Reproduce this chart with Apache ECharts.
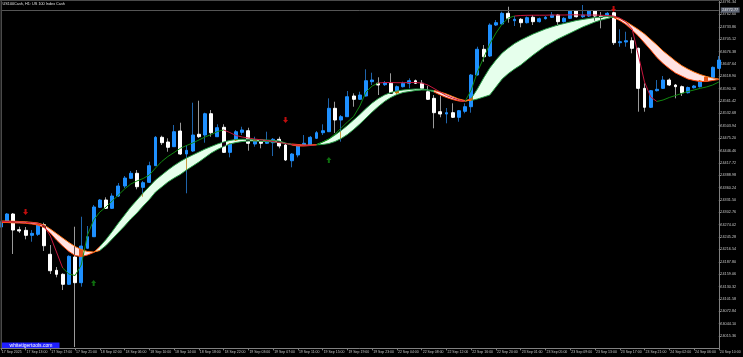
<!DOCTYPE html>
<html><head><meta charset="utf-8">
<script src="https://cdn.jsdelivr.net/npm/echarts@6/dist/echarts.min.js"></script>
<style>html,body{margin:0;padding:0;background:#000;}#c{width:743px;height:357px;}</style>
</head><body><div id="c"></div>
<script>
const chartTitle = 'US100Cash, H1: US 100 Index Cash';
const tickLabels = ['17 Sep 2025','17 Sep 13:00','17 Sep 17:00','17 Sep 21:00','18 Sep 02:00','18 Sep 06:00','18 Sep 10:00','18 Sep 14:00','18 Sep 18:00','18 Sep 22:00','19 Sep 03:00','19 Sep 07:00','19 Sep 11:00','19 Sep 15:00','19 Sep 19:00','19 Sep 23:00','22 Sep 04:00','22 Sep 08:00','22 Sep 12:00','22 Sep 16:00','22 Sep 20:00','23 Sep 01:00','23 Sep 05:00','23 Sep 09:00','23 Sep 13:00','23 Sep 17:00','23 Sep 21:00','24 Sep 02:00','24 Sep 06:00','24 Sep 10:00'];
const opens = [24268.6,24280.9,24298.8,24262.3,24260.9,24249.3,24251.6,24273.9,24205.2,24168.0,24158.7,24135.5,24198.9,24139.2,24219.1,24246.0,24314.4,24331.3,24312.0,24340.6,24363.8,24381.7,24393.4,24360.8,24372.4,24411.0,24477.0,24466.1,24455.2,24491.6,24438.2,24445.2,24484.0,24482.3,24531.8,24478.4,24500.2,24442.1,24470.7,24488.6,24492.3,24461.4,24470.7,24463.1,24464.5,24472.4,24459.1,24422.6,24435.9,24459.1,24459.1,24474.7,24487.7,24490.0,24544.4,24517.2,24524.9,24573.0,24565.3,24573.0,24606.2,24602.5,24599.2,24602.5,24580.6,24594.6,24602.5,24608.5,24602.5,24582.9,24567.6,24536.5,24531.1,24534.2,24523.5,24537.4,24548.1,24621.7,24681.5,24665.9,24737.9,24740.2,24765.1,24747.9,24751.2,24743.3,24755.8,24745.6,24752.6,24755.8,24761.1,24745.6,24753.5,24770.4,24757.2,24758.8,24770.4,24758.8,24758.8,24766.5,24696.8,24698.4,24701.4,24683.8,24590.8,24546.7,24585.3,24590.8,24610.1,24598.5,24594.6,24580.6,24592.2,24594.6,24607.8,24616.4,24637.3];
const closes = [24280.2,24298.8,24261.6,24259.3,24249.3,24253.9,24274.9,24225.1,24167.0,24158.7,24135.5,24200.5,24139.2,24224.4,24246.0,24315.1,24331.3,24312.0,24340.6,24363.8,24382.4,24393.4,24362.2,24371.5,24411.0,24477.0,24464.5,24453.8,24490.0,24438.2,24446.8,24482.3,24478.4,24531.8,24487.7,24499.3,24442.1,24461.4,24490.0,24494.0,24463.1,24470.7,24463.1,24468.4,24472.4,24456.8,24424.3,24438.2,24459.1,24463.1,24477.0,24487.7,24492.3,24544.4,24517.2,24524.9,24571.3,24565.3,24575.3,24608.5,24610.1,24598.5,24603.9,24579.2,24594.6,24602.5,24608.5,24602.5,24590.8,24565.3,24534.2,24531.1,24534.2,24523.5,24538.8,24548.1,24621.7,24681.5,24664.3,24737.9,24743.3,24765.1,24753.5,24751.2,24743.3,24754.9,24745.6,24752.6,24755.8,24761.1,24745.6,24753.5,24770.4,24757.2,24761.1,24770.4,24758.8,24755.8,24765.1,24696.8,24699.1,24701.4,24683.8,24590.8,24546.7,24585.3,24588.5,24610.1,24598.5,24594.6,24580.6,24592.7,24596.2,24607.8,24616.4,24639.6,24656.6];
const lows = [24263.9,24277.9,24205.9,24254.6,24240.0,24234.4,24247.7,24212.8,24159.4,24151.7,24122.2,24133.8,23989.8,24129.9,24219.1,24245.4,24312.7,24310.4,24310.4,24338.3,24359.2,24380.1,24356.2,24339.0,24370.8,24410.3,24459.1,24443.5,24454.5,24435.9,24346.9,24442.8,24475.4,24464.5,24478.4,24477.7,24440.5,24430.5,24468.4,24482.3,24445.9,24455.2,24451.4,24461.4,24433.5,24451.4,24421.9,24407.3,24430.5,24457.9,24456.8,24473.0,24482.3,24489.3,24487.0,24466.8,24524.2,24548.1,24563.7,24571.8,24598.5,24575.3,24596.2,24577.6,24577.6,24592.7,24590.8,24600.8,24589.2,24563.7,24497.9,24523.5,24509.5,24521.8,24513.2,24532.8,24534.2,24620.6,24652.6,24663.6,24735.6,24737.9,24743.3,24735.6,24732.6,24741.4,24737.9,24743.7,24750.7,24754.2,24735.6,24743.7,24751.9,24755.3,24754.2,24756.5,24747.9,24730.2,24756.5,24691.4,24687.5,24687.5,24672.2,24536.5,24536.5,24545.1,24583.4,24589.2,24596.2,24567.6,24573.0,24578.8,24590.4,24592.7,24605.5,24614.8,24635.7];
const highs = [24287.2,24301.1,24301.1,24269.3,24268.6,24261.6,24277.2,24278.6,24226.7,24175.7,24161.0,24202.8,24269.3,24292.5,24270.9,24319.7,24333.6,24337.6,24346.9,24370.8,24387.1,24398.7,24401.0,24375.5,24420.3,24480.0,24480.7,24474.7,24505.6,24510.9,24459.1,24557.4,24562.0,24534.2,24540.4,24507.2,24507.2,24463.8,24494.0,24501.6,24499.3,24478.4,24473.0,24490.0,24475.4,24478.4,24461.4,24440.5,24461.4,24482.3,24480.0,24491.6,24507.2,24567.6,24559.7,24528.8,24584.6,24579.2,24582.9,24635.0,24627.1,24616.4,24607.8,24625.7,24597.4,24606.2,24614.1,24611.3,24610.1,24596.9,24575.3,24573.0,24545.1,24556.0,24540.4,24556.0,24624.1,24687.5,24691.4,24741.9,24749.5,24768.8,24780.4,24758.8,24754.2,24757.7,24761.1,24755.3,24758.8,24768.1,24763.5,24756.5,24772.8,24772.8,24784.4,24772.8,24772.8,24768.1,24768.1,24768.1,24727.9,24722.3,24709.3,24685.6,24602.5,24586.9,24610.1,24619.4,24614.1,24600.8,24597.4,24595.0,24598.5,24610.1,24618.3,24641.5,24665.9];
const fastLine = [24279.0,24279.0,24278.3,24277.9,24277.2,24275.6,24273.2,24267.4,24254.6,24238.4,24224.4,24211.7,24202.4,24200.1,24203.5,24209.3,24223.3,24239.5,24258.1,24277.9,24296.5,24315.1,24331.3,24347.6,24362.7,24377.8,24389.4,24401.0,24411.5,24420.8,24428.9,24435.9,24442.8,24449.8,24455.6,24461.4,24466.1,24469.6,24471.9,24472.4,24472.4,24471.9,24471.4,24470.7,24469.6,24468.4,24463.8,24459.1,24456.8,24456.8,24457.9,24460.3,24466.1,24473.0,24482.3,24492.8,24504.4,24517.2,24530.0,24543.9,24556.7,24567.1,24575.3,24581.1,24584.6,24586.9,24588.1,24589.2,24589.2,24587.0,24582.2,24575.3,24569.5,24564.8,24561.3,24560.2,24567.1,24589.2,24614.8,24638.0,24656.6,24672.9,24684.5,24694.9,24703.1,24710.0,24717.0,24722.8,24728.6,24733.3,24737.9,24741.4,24744.9,24748.4,24750.7,24753.0,24755.3,24756.5,24757.7,24755.3,24748.4,24739.1,24726.3,24712.4,24696.1,24679.8,24662.4,24648.5,24636.8,24626.4,24619.4,24612.5,24609.0,24606.6,24606.6,24609.0,24611.3];
const slowLine = [24282.5,24282.5,24282.1,24281.4,24280.7,24279.5,24277.9,24273.2,24263.9,24253.5,24243.0,24232.6,24223.3,24216.3,24211.7,24210.5,24214.0,24225.6,24240.7,24255.8,24270.9,24287.2,24301.1,24317.4,24332.5,24349.9,24361.5,24373.1,24382.4,24390.6,24401.0,24410.3,24419.6,24430.1,24440.5,24448.7,24455.6,24461.4,24464.9,24467.2,24468.4,24468.4,24467.9,24467.2,24466.1,24464.9,24462.6,24461.4,24460.3,24459.1,24459.1,24459.6,24460.3,24462.6,24467.2,24474.2,24483.5,24495.1,24507.9,24521.8,24535.8,24548.6,24560.2,24569.5,24576.4,24581.1,24583.4,24585.7,24586.9,24586.9,24585.7,24582.2,24577.6,24571.8,24566.0,24562.5,24562.5,24566.0,24570.6,24575.3,24593.9,24612.5,24625.2,24635.7,24645.0,24656.6,24668.2,24678.7,24689.1,24697.3,24705.4,24712.4,24719.3,24726.3,24733.3,24739.1,24744.9,24749.5,24753.0,24757.7,24753.0,24746.0,24736.8,24727.5,24717.0,24704.2,24691.4,24677.5,24665.9,24654.3,24643.8,24635.7,24628.7,24622.9,24618.3,24614.8,24612.5];
const signalLine = [24281.4,24281.4,24280.7,24280.2,24279.5,24278.3,24277.2,24270.9,24247.7,24210.5,24173.3,24159.4,24155.9,24180.3,24250.0,24284.9,24303.4,24315.1,24329.0,24342.9,24356.9,24368.5,24375.5,24381.3,24389.4,24405.7,24420.8,24432.4,24441.7,24451.4,24457.9,24463.8,24470.7,24477.7,24483.5,24490.5,24494.0,24488.1,24481.2,24477.7,24475.4,24473.0,24471.2,24469.6,24467.2,24464.9,24462.6,24460.3,24459.1,24458.4,24458.4,24459.1,24466.1,24473.0,24484.7,24498.6,24512.5,24525.3,24549.7,24582.2,24596.2,24603.2,24604.3,24604.3,24603.9,24603.9,24604.3,24604.3,24603.2,24598.5,24590.4,24582.2,24574.1,24568.3,24563.7,24560.2,24586.9,24628.7,24661.2,24693.8,24719.3,24740.2,24754.2,24758.8,24760.0,24760.5,24760.7,24760.7,24760.7,24761.1,24761.1,24761.1,24761.6,24761.6,24761.1,24761.1,24761.1,24760.5,24760.0,24758.8,24754.2,24744.9,24728.6,24668.2,24605.5,24570.6,24560.2,24563.7,24569.5,24574.1,24578.8,24583.4,24586.9,24590.8,24593.9,24598.5,24605.5];
const signalSegments = [[0,10,'down'],[10,36,'up'],[36,51,'down'],[51,61,'up'],[61,75,'down'],[75,83,'up'],[83,106,'down'],[106,116,'up']];
const sellArrows = [[4,24303.4],[46,24517.2],[99,24775.1]];
const buyArrows = [[15,24138.5],[53,24424.3]];
const refPrice = 24772.77;
const yMin = 23986.62, yMax = 24793.70, yStep = 28.74;

const cats = opens.map((_, i) => String(i));
const isBull = i => closes[i] >= opens[i];
const BULL = '#1e90ff', BEAR = '#ffffff', BULL_WICK = '#1f64ab', BEAR_WICK = '#9a9a9a';
// wick drawn as whisker: zero-height body at the low, whisker up to the high
const wickData = lows.map((l, i) => { const c = isBull(i) ? BULL_WICK : BEAR_WICK; return {value: [l, l, l, highs[i]], itemStyle: {color: c, color0: c, borderColor: c, borderColor0: c, borderColorDoji: c}}; });
const bodyData = opens.map((o, i) => [o, closes[i], Math.min(o, closes[i]), Math.max(o, closes[i])]);
const up = i => fastLine[i] >= slowLine[i];
const ribBase = fastLine.map((f, i) => Math.min(f, slowLine[i]));
const ribUp = fastLine.map((f, i) => up(i) ? +(f - slowLine[i]).toFixed(2) : 0);
const ribDn = fastLine.map((f, i) => up(i) ? 0 : +(slowLine[i] - f).toFixed(2));
function regimeSeg(arr, want) { return arr.map((v, i) => (up(i) === want || (i > 0 && up(i - 1) === want)) ? v : null); }
const lineBase = {type: 'line', symbol: 'none', showSymbol: false, smooth: false, connectNulls: false, silent: true, animation: false};

const series = [
  {type: 'candlestick', data: wickData, barWidth: 0.6, itemStyle: {borderWidth: 1}, z: 2, silent: true, animation: false},
  {type: 'candlestick', data: bodyData, barWidth: 3.4, z: 3, silent: true, animation: false,
   itemStyle: {color: BULL, color0: BEAR, borderColor: BULL, borderColor0: BEAR, borderWidth: 1},
   markLine: {silent: true, symbol: 'none', animation: false, data: [{yAxis: refPrice}],
     lineStyle: {color: '#555555', width: 1, type: 'solid'},
     label: {show: true, position: 'end', distance: 2, formatter: refPrice.toFixed(2), color: '#e8e8e8', backgroundColor: '#5d6473', fontSize: 3.8, fontFamily: 'Liberation Sans', padding: [0.6, 1.5, 0.6, 1.5]}}},
  Object.assign({}, lineBase, {data: ribBase, stack: 'rib', lineStyle: {opacity: 0}, z: 4}),
  Object.assign({}, lineBase, {data: ribUp, stack: 'rib', lineStyle: {opacity: 0}, areaStyle: {color: '#e6ffec', opacity: 1}, blendMode: 'difference', z: 4}),
  Object.assign({}, lineBase, {data: ribDn, stack: 'rib', lineStyle: {opacity: 0}, areaStyle: {color: '#ffe2e2', opacity: 1}, blendMode: 'difference', z: 4}),
  Object.assign({}, lineBase, {data: regimeSeg(fastLine, true), lineStyle: {color: '#2a9d48', width: 1}, z: 5}),
  Object.assign({}, lineBase, {data: regimeSeg(slowLine, true), lineStyle: {color: '#2a9d48', width: 1}, z: 5}),
  Object.assign({}, lineBase, {data: regimeSeg(fastLine, false), lineStyle: {color: '#ff4a10', width: 1}, z: 5}),
  Object.assign({}, lineBase, {data: regimeSeg(slowLine, false), lineStyle: {color: '#ff7010', width: 1}, z: 5})
];
signalSegments.forEach(([s, e, d]) => {
  series.push(Object.assign({}, lineBase, {data: signalLine.map((v, i) => (i >= s && i <= e) ? v : null), lineStyle: {color: d === 'up' ? '#108a10' : '#c8163e', width: 1}, z: 6}));
});
series.push({type: 'scatter', data: sellArrows, symbol: 'path://M3,0L7,0L7,5L10,5L5,10L0,5L3,5Z', symbolSize: [5, 6], itemStyle: {color: '#f01010'}, z: 7, silent: true, animation: false});
series.push({type: 'scatter', data: buyArrows, symbol: 'path://M5,0L10,5L7,5L7,10L3,10L3,5L0,5Z', symbolSize: [5, 6], itemStyle: {color: '#118a11'}, z: 7, silent: true, animation: false});

const chart = echarts.init(document.getElementById('c'), null, {renderer: 'canvas'});
chart.setOption({
  backgroundColor: '#000000',
  animation: false,
  title: {text: chartTitle, left: 2.5, top: 2, padding: 0, textStyle: {color: '#e0e0e0', fontSize: 3.8, fontWeight: 'normal', fontFamily: 'Liberation Sans'}},
  grid: {left: 0.8, right: 24.2, top: 1, bottom: 8.63, containLabel: false, outerBoundsMode: 'none'},
  xAxis: {type: 'category', data: cats, boundaryGap: false,
    axisLine: {show: true, lineStyle: {color: '#808080', width: 1}},
    axisTick: {show: true, interval: i => i % 4 === 0, length: 2, lineStyle: {color: '#808080'}},
    axisLabel: {interval: i => i % 4 === 0, formatter: (v, i) => tickLabels[i / 4] || '', color: '#c4c4c4', fontSize: 3.5, fontFamily: 'Liberation Sans', align: 'left', margin: 1.5, padding: [0, 0, 0, 1], hideOverlap: false},
    splitLine: {show: false}},
  yAxis: {type: 'value', position: 'right', min: yMin, max: yMax, interval: yStep,
    axisLine: {show: true, lineStyle: {color: '#808080', width: 1}},
    axisTick: {show: true, length: 2, lineStyle: {color: '#808080'}},
    axisLabel: {color: '#c4c4c4', fontSize: 3.8, fontFamily: 'Liberation Sans', margin: 1.5, showMinLabel: false, showMaxLabel: false, hideOverlap: false, formatter: v => v.toFixed(2)},
    splitLine: {show: false}},
  graphic: [
    {type: 'rect', shape: {x: 0.5, y: 0, width: 1.5, height: 348}, style: {fill: '#4a4a4a'}, silent: true, z: 50},
    {type: 'rect', shape: {x: 0, y: 0, width: 719, height: 1}, style: {fill: '#4a4a4a'}, silent: true, z: 50},
    {type: 'rect', shape: {x: 2, y: 342.5, width: 57.5, height: 5.5}, style: {fill: '#1f1fff'}, silent: true, z: 50},
    {type: 'text', style: {text: 'whitetigertools.com', x: 31, y: 345.4, fill: '#ffffff', font: '5px "Liberation Sans"', align: 'center', verticalAlign: 'middle'}, silent: true, z: 51}
  ],
  series: series
});
</script></body></html>
